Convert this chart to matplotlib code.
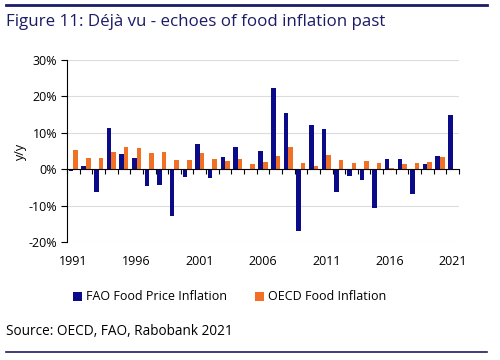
import matplotlib
matplotlib.use("Agg")
import matplotlib.pyplot as plt
import numpy as np
from matplotlib.lines import Line2D

plt.rcParams["font.family"] = ["Open Sans", "DejaVu Sans"]

years = list(range(1991, 2022))
fao = [-0.5, 0.9, -6.4, 11.2, 4.2, 3.1, -4.6, -4.3, -13.0, -2.2,
       7.0, -2.3, 3.3, 6.1, -0.3, 5.0, 22.2, 15.5, -17.0, 12.2,
       11.1, -6.3, -2.0, -3.0, -10.7, 2.7, 2.8, -6.7, 1.3, 3.5, 14.9]
oecd = [5.3, 3.0, 3.0, 4.6, 6.1, 5.7, 4.5, 4.7, 2.6, 2.4,
        4.5, 2.7, 2.3, 2.7, 1.4, 2.1, 3.7, 6.1, 1.6, 1.0,
        3.8, 2.6, 1.7, 2.2, 1.6, 0.2, 1.4, 1.7, 1.9, 3.3, 0.0]
label_years = [1991, 1996, 2001, 2006, 2011, 2016, 2021]
y_ticks = [-20, -10, 0, 10, 20, 30]

navy = "#0b0b8a"
orange = "#f07126"
title_color = "#1b1b66"

fig = plt.figure(figsize=(5, 3.6), dpi=100)
ax = fig.add_axes([0.134, 0.328, 0.784, 0.505])

x = np.arange(len(years))
w = 0.36
ax.bar(x - w / 2, fao, width=w, color=navy, label="FAO Food Price Inflation", zorder=3)
ax.bar(x + w / 2, oecd, width=w, color=orange, label="OECD Food Inflation", zorder=3)

ax.set_xlim(-0.5, len(years) - 0.5)
ax.set_ylim(-20, 30)
ax.set_yticks(y_ticks)
ax.set_yticklabels([f"{v}%" for v in y_ticks], fontsize=9)
ax.yaxis.grid(True, color="#dcdcdc", linewidth=0.8, zorder=0)
ax.tick_params(axis="y", length=4, width=0.8, pad=3)

for side in ["top", "right"]:
    ax.spines[side].set_visible(False)
ax.spines["left"].set_linewidth(0.8)
ax.spines["bottom"].set_position(("data", 0))
ax.spines["bottom"].set_linewidth(0.8)
ax.spines["bottom"].set_zorder(4)
ax.set_xticks(np.arange(len(years) + 1) - 0.5)
ax.set_xticklabels([])
ax.tick_params(axis="x", length=3.5, width=0.8, direction="out")

for yr in label_years:
    ax.text(years.index(yr), -0.11, str(yr), transform=ax.get_xaxis_transform(),
            ha="center", va="center", fontsize=9)

ax.set_ylabel("y/y", fontsize=9, labelpad=1)

fig.legend(loc="center left", bbox_to_anchor=(0.146, 0.175), ncol=2, frameon=False,
           fontsize=9, handlelength=0.7, handleheight=0.7, handletextpad=0.3,
           columnspacing=2.3, borderpad=0, borderaxespad=0)

fig.text(0.013, 0.94, "Figure 11: Déjà vu - echoes of food inflation past",
         fontsize=12.2, color=title_color, ha="left", va="center")
fig.text(0.013, 0.078, "Source: OECD, FAO, Rabobank 2021", fontsize=9.8,
         ha="left", va="center")

fig.add_artist(Line2D([0.012, 0.974], [0.986, 0.986], color=title_color, linewidth=2))
fig.add_artist(Line2D([0.012, 0.974], [0.022, 0.022], color=title_color, linewidth=1.2))

fig.savefig("out.png", dpi=100)
